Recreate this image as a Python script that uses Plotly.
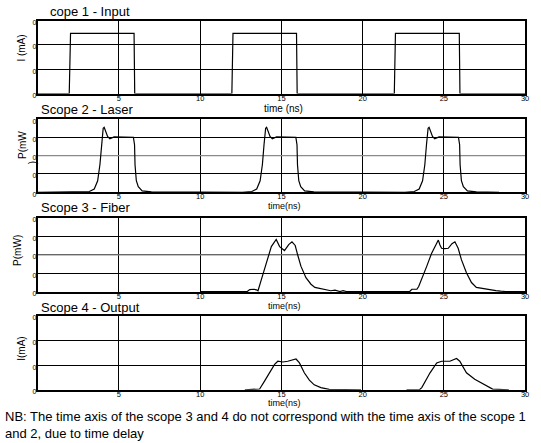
import plotly.graph_objects as go

W, H = 541, 443

# ---------------- data ----------------
# Scope 1 - Input current (three rectangular pulses)
input_t = [0, 1.94, 2.02, 5.93, 5.97, 11.95, 12.02, 15.93, 15.97, 21.95, 22.02, 25.95, 25.99, 30]
input_i = [0, 0, 2.48, 2.48, 0, 0, 2.48, 2.48, 0, 0, 2.48, 2.48, 0, 0]

# Scope 2 - Laser power
laser_t = [0, 2.6, 3.18, 3.48, 3.69, 3.83, 3.93, 4.03, 4.09, 4.2, 4.3, 4.44, 4.6, 4.7, 5.89, 5.96, 5.99, 6.07, 6.19, 6.43, 7.0,
           12.6, 13.18, 13.48, 13.69, 13.83, 13.93, 14.03, 14.09, 14.2, 14.3, 14.44, 14.6, 14.7, 15.89, 15.96, 15.99, 16.07, 16.19, 16.43, 17.0,
           22.6, 23.18, 23.48, 23.69, 23.83, 23.93, 24.03, 24.09, 24.2, 24.3, 24.44, 24.6, 24.7, 25.9, 25.97, 26.0, 26.08, 26.2, 26.45, 27.0, 28.4]
laser_p = [0, 0.0, 0.04, 0.18, 0.63, 1.52, 2.6, 3.5, 3.55, 3.32, 3.05, 2.92, 3.0, 3.03, 3.0, 2.6, 1.5, 0.63, 0.3, 0.07, 0.02,
           0.0, 0.04, 0.18, 0.63, 1.52, 2.6, 3.5, 3.55, 3.32, 3.05, 2.92, 3.0, 3.03, 3.0, 2.6, 1.5, 0.63, 0.3, 0.07, 0.02,
           0.0, 0.04, 0.18, 0.63, 1.52, 2.6, 3.5, 3.55, 3.32, 3.05, 2.92, 3.0, 3.03, 3.0, 2.6, 1.5, 0.63, 0.3, 0.07, 0.02, 0.0]

# Scope 3 - Fiber output power
fiber_t = [10.0, 12.0, 12.9, 13.05, 13.3, 13.46, 13.56, 13.77, 13.97, 14.17, 14.38, 14.68, 14.89, 15.19, 15.45, 15.65, 15.85,
           16.0, 16.2, 16.51, 16.82, 17.06, 17.3, 17.53, 17.8, 18.04, 18.3, 18.6, 18.8, 19.0, 20.0, 22.5,
           22.9, 23.03, 23.34, 23.45, 23.64, 23.95, 24.25, 24.46, 24.66, 24.76, 24.86, 25.05, 25.27, 25.5, 25.68, 25.88,
           26.08, 26.39, 26.7, 27.0, 27.3, 27.6, 27.9, 28.2, 28.5, 28.8, 30.0]
fiber_p = [0.02, 0.02, 0.03, 0.13, 0.15, 0.12, 0.07, 0.68, 1.3, 1.91, 2.44, 2.82, 2.44, 2.23, 2.55, 2.7, 2.5,
           2.0, 1.39, 0.77, 0.42, 0.25, 0.2, 0.16, 0.1, 0.07, 0.1, 0.03, 0.07, 0.03, 0.02, 0.02,
           0.03, 0.15, 0.15, 0.3, 0.68, 1.39, 2.09, 2.44, 2.79, 2.53, 2.35, 2.33, 2.35, 2.6, 2.7, 2.35,
           1.74, 1.04, 0.51, 0.25, 0.2, 0.16, 0.1, 0.08, 0.05, 0.03, 0.02]

# Scope 4 - Output current
output_t = [12.75, 13.66, 13.97, 14.27, 14.58, 14.78, 15.09, 15.39, 15.6, 15.9, 16.11, 16.41, 16.72, 17.02, 17.43, 17.94, 19.9,
            None,
            22.7, 23.5, 23.64, 24.15, 24.56, 24.86, 25.37, 25.78, 25.98, 26.39, 26.9, 27.41, 28.0, 29.0]
output_i = [0.0, 0.03, 0.36, 0.69, 1.03, 1.16, 1.13, 1.16, 1.19, 1.25, 1.09, 0.69, 0.39, 0.2, 0.09, 0.02, 0.0,
            None,
            0.0, 0.0, 0.09, 0.69, 1.09, 1.16, 1.16, 1.27, 1.16, 0.69, 0.43, 0.23, 0.03, 0.0]

x_ticks = [5, 10, 15, 20, 25, 30]
x_tick_labels = ["5", "10", "15", "20", "25", "30"]

titles = ["cope 1 - Input", "Scope 2 - Laser", "Scope 3 - Fiber", "Scope 4 - Output"]
ylabels = ["I (mA)", "P(mW", "P(mW)", "I(mA)"]
xlabels = ["time (ns)", "time(ns)", "time(ns)", "time(ns)"]
y_max = [3, 4, 4, 3]
note = ("NB: The time axis of the scope 3 and 4 do not correspond with the time axis of the scope 1<br>"
        "and 2, due to time delay")

# ---------------- layout helpers (pixel -> paper) ----------------
def px(x):
    return x / W

def py(y):
    return 1 - y / H

X0, X1 = 38, 529
panels = [(19, 93), (119, 193.3), (219, 294.7), (319, 394)]

FONT = "Liberation Sans, Arial, sans-serif"

fig = go.Figure()
series = [(input_t, input_i), (laser_t, laser_p), (fiber_t, fiber_p), (output_t, output_i)]

for k, ((xs, ys), (top, bot)) in enumerate(zip(series, panels)):
    n = k + 1
    xa = "x" if n == 1 else f"x{n}"
    ya = "y" if n == 1 else f"y{n}"
    fig.add_trace(go.Scatter(x=xs, y=ys, mode="lines", xaxis=xa, yaxis=ya,
                             line=dict(color="black", width=1.2), connectgaps=False,
                             showlegend=False, hoverinfo="skip"))
    xkey = "xaxis" if n == 1 else f"xaxis{n}"
    ykey = "yaxis" if n == 1 else f"yaxis{n}"
    fig.layout[xkey] = dict(domain=[px(X0), px(X1)], range=[0, 30], anchor=ya,
                            tickvals=x_ticks, ticktext=x_tick_labels, ticks="",
                            ticklabelstandoff=-4,
                            tickfont=dict(size=7.5, color="black", family=FONT),
                            showgrid=True, gridcolor="black", gridwidth=1,
                            zeroline=False, showline=True, mirror=True,
                            linecolor="black", linewidth=2, fixedrange=True)
    ym = y_max[k]
    fig.layout[ykey] = dict(domain=[py(bot), py(top)], range=[0, ym], anchor=xa,
                            tickvals=list(range(ym + 1)), ticktext=["0"] * (ym + 1),
                            ticks="", ticklabelstandoff=-2, ticklabelshift=2,
                            tickfont=dict(size=7, color="black", family=FONT),
                            showgrid=True, gridcolor="black", gridwidth=1,
                            zeroline=False, showline=True, mirror=True,
                            linecolor="black", linewidth=2, fixedrange=True)

# grey middle gridlines in scopes 2 and 3
for n in (2, 3):
    fig.add_shape(type="line", xref=f"x{n}", yref=f"y{n}", x0=0, x1=30, y0=2, y1=2,
                  line=dict(color="#8a8a8a", width=1.2), layer="between")

ann = []
title_pos = [(48, 10), (39, 109), (39, 208.5), (39, 310.5)]
for (x, y), t in zip(title_pos, titles):
    ann.append(dict(text=t, x=px(x), y=py(y), xanchor="left", yanchor="middle",
                    font=dict(size=13, family=FONT, color="black")))

xl_pos = [(286, 108, 10), (287, 207.5, 9), (287, 308.5, 9), (287, 407.5, 9)]
for (x, y, s), t in zip(xl_pos, xlabels):
    ann.append(dict(text=t, x=px(x), y=py(y), xanchor="center", yanchor="middle",
                    font=dict(size=s, family=FONT, color="black")))

yl_pos = [(21.5, 47), (22.5, 145), (17, 252), (21.5, 352)]
for (x, y), t in zip(yl_pos, ylabels):
    ann.append(dict(text=t, x=px(x), y=py(y), xanchor="center", yanchor="middle",
                    textangle=-90, font=dict(size=10, family=FONT, color="black")))
ann.append(dict(text=")", x=px(33.5), y=py(163.5), xanchor="center", yanchor="middle",
                textangle=-90, font=dict(size=10, family=FONT, color="black")))

ann.append(dict(text=note, x=px(3), y=py(411), xanchor="left", yanchor="top", align="left",
                font=dict(size=13, family=FONT, color="black")))

for a in ann:
    a.update(xref="paper", yref="paper", showarrow=False)

fig.update_layout(width=W, height=H, margin=dict(l=0, r=0, t=0, b=0),
                  paper_bgcolor="white", plot_bgcolor="white",
                  annotations=ann, font=dict(family=FONT, color="black"))

# remove the page's default body margin so the figure fills the window exactly
fig.write_html("out.html", config={"displayModeBar": False, "staticPlot": True},
               post_script="document.body.style.margin='0';document.body.style.overflow='hidden';")
